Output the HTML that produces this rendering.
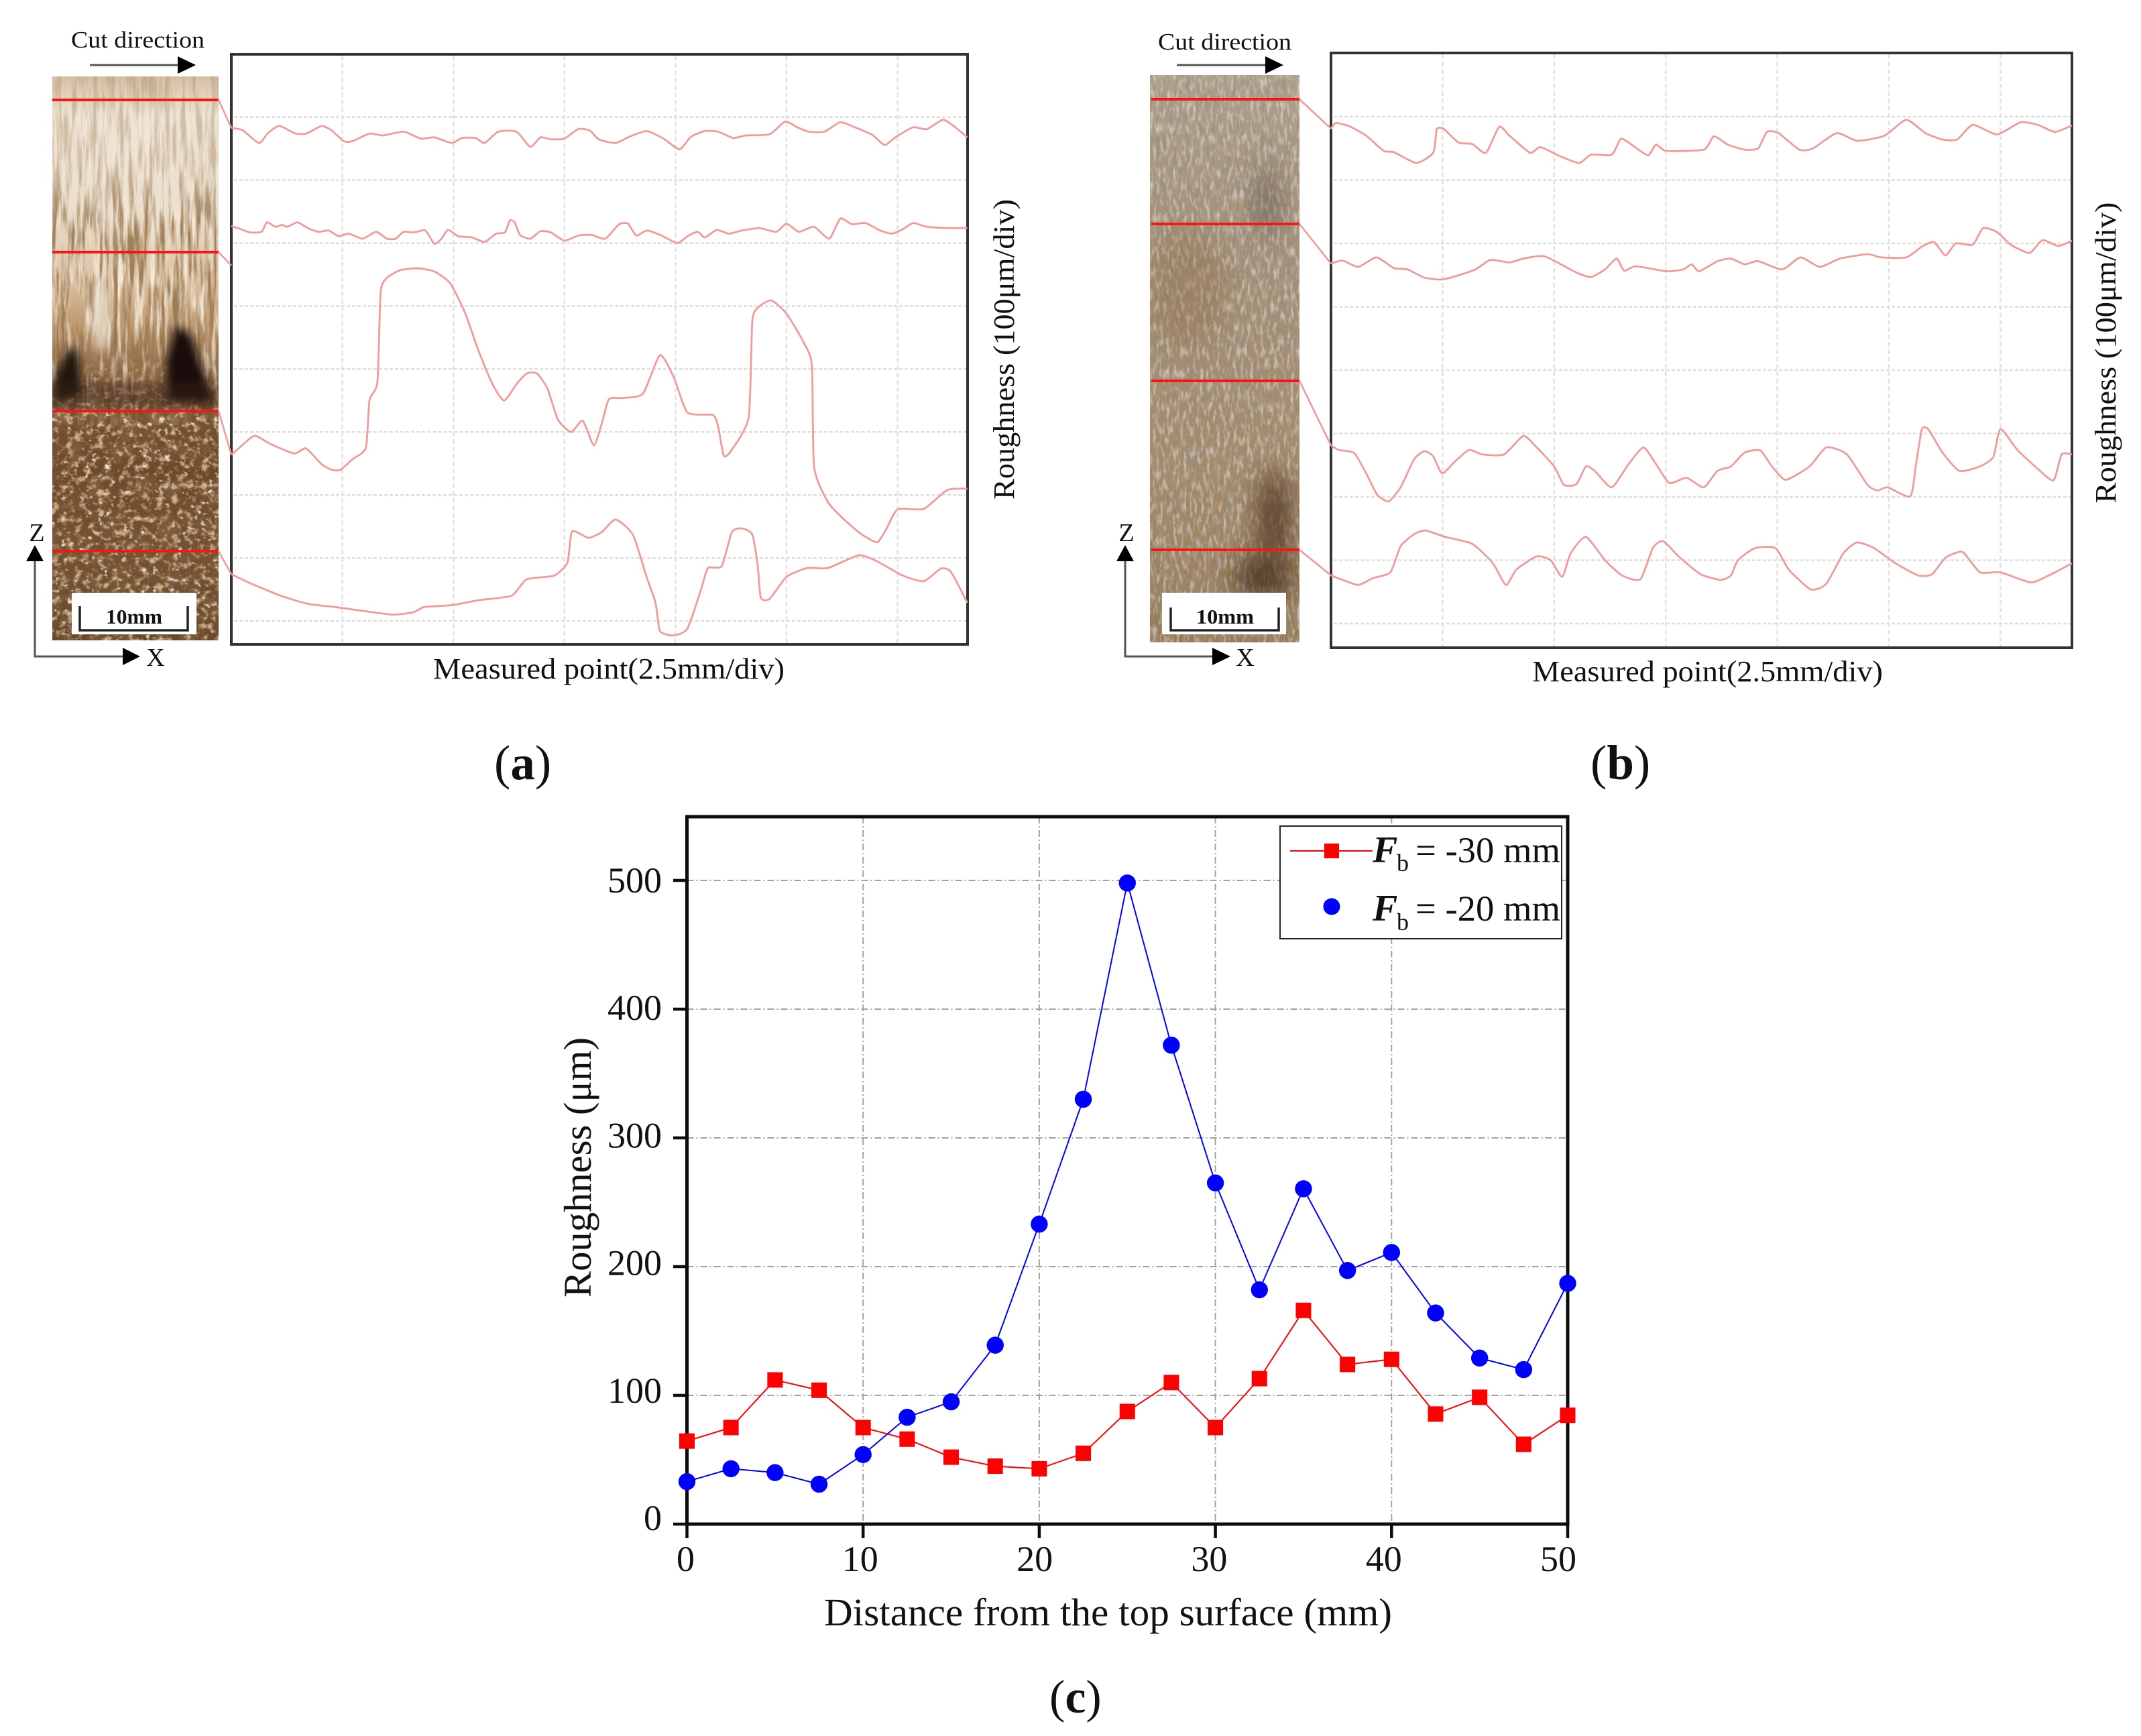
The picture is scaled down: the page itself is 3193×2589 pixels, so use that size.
<!DOCTYPE html>
<html lang="en">
<head>
<meta charset="utf-8">
<title>Surface roughness profiles</title>
<style>
html,body{margin:0;padding:0;background:#fff;}
svg{display:block;}
text{font-family:"Liberation Serif",serif;fill:#111;}
</style>
</head>
<body>
<svg id="figure" xmlns="http://www.w3.org/2000/svg" width="3193" height="2589" viewBox="0 0 3193 2589">
<defs>
<linearGradient id="gradA" x1="0" y1="0" x2="0" y2="1">
<stop offset="0" stop-color="#d6c0a4"/><stop offset=".07" stop-color="#efe5d6"/><stop offset=".24" stop-color="#eaddcb"/><stop offset=".36" stop-color="#dcc3a4"/><stop offset=".45" stop-color="#b8946a"/><stop offset=".56" stop-color="#7a5535"/><stop offset=".7" stop-color="#6e4a2a"/><stop offset=".85" stop-color="#745232"/><stop offset="1" stop-color="#68482c"/>
</linearGradient>
<linearGradient id="gradB" x1="0" y1="0" x2="0" y2="1">
<stop offset="0" stop-color="#aea08c"/><stop offset=".3" stop-color="#a3917a"/><stop offset=".5" stop-color="#a38d72"/><stop offset=".7" stop-color="#a28a6a"/><stop offset="1" stop-color="#957b5a"/>
</linearGradient>
<linearGradient id="fadeDown" x1="0" y1="0" x2="0" y2="1">
<stop offset="0" stop-color="#fff" stop-opacity=".35"/><stop offset=".25" stop-color="#fff" stop-opacity=".45"/><stop offset=".42" stop-color="#fff" stop-opacity="1"/><stop offset="1" stop-color="#fff" stop-opacity="1"/>
</linearGradient>
<linearGradient id="fadeMid" x1="0" y1="0" x2="0" y2="1">
<stop offset="0" stop-color="#fff" stop-opacity="0"/><stop offset=".35" stop-color="#fff" stop-opacity=".4"/><stop offset=".6" stop-color="#fff" stop-opacity="1"/><stop offset=".85" stop-color="#fff" stop-opacity=".8"/><stop offset="1" stop-color="#fff" stop-opacity="0"/>
</linearGradient>
<linearGradient id="fadeLow" x1="0" y1="0" x2="0" y2="1">
<stop offset="0" stop-color="#fff" stop-opacity="0"/><stop offset=".2" stop-color="#fff" stop-opacity="1"/><stop offset="1" stop-color="#fff" stop-opacity="1"/>
</linearGradient>
<mask id="maskDown" maskUnits="userSpaceOnUse" x="78" y="114" width="248" height="520"><rect x="78" y="114" width="248" height="520" fill="url(#fadeDown)"/></mask>
<mask id="maskMid" maskUnits="userSpaceOnUse" x="78" y="114" width="248" height="520"><rect x="78" y="114" width="248" height="520" fill="url(#fadeMid)"/></mask>
<mask id="maskLow" maskUnits="userSpaceOnUse" x="78" y="520" width="248" height="435"><rect x="78" y="520" width="248" height="435" fill="url(#fadeLow)"/></mask>
<filter id="streakDark" x="0" y="0" width="1" height="1"><feTurbulence type="fractalNoise" baseFrequency="0.13 0.012" numOctaves="4" seed="4"/><feColorMatrix type="matrix" values="0 0 0 0 .3 0 0 0 0 .17 0 0 0 0 .07 4 0 0 0 -1.7"/></filter>
<filter id="streakLight" x="0" y="0" width="1" height="1"><feTurbulence type="fractalNoise" baseFrequency="0.12 0.014" numOctaves="4" seed="11"/><feColorMatrix type="matrix" values="0 0 0 0 1 0 0 0 0 .95 0 0 0 0 .85 0 4 0 0 -1.95"/></filter>
<filter id="chunkLight" x="0" y="0" width="1" height="1"><feTurbulence type="fractalNoise" baseFrequency="0.09 0.1" numOctaves="4" seed="21"/><feColorMatrix type="matrix" values="0 0 0 0 .9 0 0 0 0 .68 0 0 0 0 .42 0 3.5 0 0 -1.8"/></filter>
<filter id="chunkWhite" x="0" y="0" width="1" height="1"><feTurbulence type="fractalNoise" baseFrequency="0.11 0.13" numOctaves="3" seed="41"/><feColorMatrix type="matrix" values="0 0 0 0 .97 0 0 0 0 .93 0 0 0 0 .87 0 0 5 0 -3.1"/></filter>
<filter id="chunkDark" x="0" y="0" width="1" height="1"><feTurbulence type="fractalNoise" baseFrequency="0.03 0.035" numOctaves="4" seed="31"/><feColorMatrix type="matrix" values="0 0 0 0 .22 0 0 0 0 .12 0 0 0 0 .05 3.5 0 0 0 -1.6"/></filter>
<filter id="grainGrey" x="0" y="0" width="1" height="1"><feTurbulence type="fractalNoise" baseFrequency="0.16 0.03" numOctaves="4" seed="7"/><feColorMatrix type="matrix" values="0 0 0 0 .32 0 0 0 0 .27 0 0 0 0 .22 3.5 0 0 0 -1.55"/></filter>
<filter id="grainLight" x="0" y="0" width="1" height="1"><feTurbulence type="fractalNoise" baseFrequency="0.2 0.06" numOctaves="3" seed="17"/><feColorMatrix type="matrix" values="0 0 0 0 .9 0 0 0 0 .86 0 0 0 0 .78 0 3 0 0 -1.4"/></filter>
<filter id="softBlur" x="-40%" y="-40%" width="180%" height="180%"><feGaussianBlur stdDeviation="6"/></filter>
<filter id="wideBlur" x="-50%" y="-50%" width="200%" height="200%"><feGaussianBlur stdDeviation="18"/></filter>
<clipPath id="clipA"><rect x="78" y="114" width="248" height="841"/></clipPath>
<clipPath id="clipB"><rect x="1715" y="112" width="223" height="846"/></clipPath>
</defs>

<rect x="0" y="0" width="3193" height="2589" fill="#ffffff"/>

<!-- Panel a specimen -->
<g clip-path="url(#clipA)">
<rect x="78" y="114" width="248" height="841" fill="url(#gradA)"/>
<g mask="url(#maskDown)">
<rect x="78" y="114" width="248" height="520" filter="url(#streakDark)" opacity=".85"/>
</g>
<g mask="url(#maskMid)">
<rect x="78" y="114" width="248" height="520" filter="url(#streakLight)" opacity=".75"/>
</g>
<g mask="url(#maskLow)">
<rect x="78" y="520" width="248" height="435" filter="url(#chunkDark)" opacity=".75"/>
<rect x="78" y="520" width="248" height="435" filter="url(#chunkLight)" opacity=".75"/>
<rect x="78" y="520" width="248" height="435" filter="url(#chunkWhite)" opacity=".8"/>
</g>
<polygon points="262,485 285,500 305,560 318,600 250,600 248,540" fill="#1e1008" filter="url(#softBlur)"/>
<polygon points="104,515 118,530 122,590 82,600 82,560" fill="#24140a" filter="url(#softBlur)"/>
<rect x="78" y="570" width="248" height="40" fill="#3a2412" opacity=".45" filter="url(#softBlur)"/>
<ellipse cx="150" cy="470" rx="12" ry="55" fill="#fbf6ee" filter="url(#softBlur)" opacity=".7"/>
</g>
<rect x="107" y="884" width="186" height="62" fill="#ffffff"/>
<path d="M119 904V940H280V904" fill="none" stroke="#222" stroke-width="3.5"/>
<text x="200" y="930" font-size="31" font-weight="bold" text-anchor="middle" textLength="84" lengthAdjust="spacingAndGlyphs">10mm</text>
<line x1="78" y1="149" x2="326" y2="149" stroke="#f01818" stroke-width="4"/>
<line x1="78" y1="376" x2="326" y2="376" stroke="#f01818" stroke-width="4"/>
<line x1="78" y1="613" x2="326" y2="613" stroke="#f01818" stroke-width="4"/>
<line x1="78" y1="822" x2="326" y2="822" stroke="#f01818" stroke-width="4"/>
<text x="106" y="71" font-size="35" textLength="199" lengthAdjust="spacingAndGlyphs">Cut direction</text>
<line x1="134" y1="97" x2="266" y2="97" stroke="#555" stroke-width="3"/>
<polygon points="265,84 292,97 265,110" fill="#000"/>
<path d="M52 836V979H186" fill="none" stroke="#555" stroke-width="3"/>
<polygon points="39,837 52,813 65,837" fill="#000"/>
<polygon points="183,966 209,979 183,992" fill="#000"/>
<text x="55" y="807" font-size="38" text-anchor="middle">Z</text>
<text x="232" y="993" font-size="38" text-anchor="middle">X</text>

<!-- Panel a plot -->
<rect x="345" y="81" width="1098" height="880" fill="#ffffff" stroke="#333" stroke-width="4"/>
<g id="gridA"></g>
<g id="curvesA"></g>
<text x="646" y="1012" font-size="44" textLength="524" lengthAdjust="spacingAndGlyphs">Measured point(2.5mm/div)</text>
<text x="0" y="0" font-size="44" text-anchor="middle" textLength="448" lengthAdjust="spacingAndGlyphs" transform="translate(1512 521) rotate(-90)">Roughness (100μm/div)</text>
<text x="737" y="1162" font-size="73">(<tspan font-weight="bold">a</tspan>)</text>

<!-- Panel b specimen -->
<g clip-path="url(#clipB)">
<rect x="1715" y="112" width="223" height="846" fill="url(#gradB)"/>
<rect x="1715" y="112" width="223" height="846" filter="url(#grainGrey)" opacity=".65"/>
<rect x="1715" y="112" width="223" height="846" filter="url(#grainLight)" opacity=".5"/>
<ellipse cx="1890" cy="300" rx="18" ry="55" fill="#4e4034" filter="url(#wideBlur)" opacity=".45"/>
<ellipse cx="1770" cy="430" rx="60" ry="90" fill="#8a6638" filter="url(#wideBlur)" opacity=".3"/>
<ellipse cx="1900" cy="770" rx="24" ry="70" fill="#4a2c12" filter="url(#wideBlur)" opacity=".75"/>
<ellipse cx="1885" cy="860" rx="44" ry="34" fill="#3a2410" filter="url(#wideBlur)" opacity=".7"/>
</g>
<rect x="1733" y="884" width="185" height="62" fill="#ffffff"/>
<path d="M1746 906V940H1907V906" fill="none" stroke="#222" stroke-width="3.5"/>
<text x="1827" y="930" font-size="31" font-weight="bold" text-anchor="middle" textLength="86" lengthAdjust="spacingAndGlyphs">10mm</text>
<line x1="1717" y1="148" x2="1938" y2="148" stroke="#f01818" stroke-width="4"/>
<line x1="1717" y1="334" x2="1938" y2="334" stroke="#f01818" stroke-width="4"/>
<line x1="1717" y1="568" x2="1938" y2="568" stroke="#f01818" stroke-width="4"/>
<line x1="1717" y1="820" x2="1938" y2="820" stroke="#f01818" stroke-width="4"/>
<text x="1727" y="74" font-size="35" textLength="199" lengthAdjust="spacingAndGlyphs">Cut direction</text>
<line x1="1755" y1="97" x2="1888" y2="97" stroke="#555" stroke-width="3"/>
<polygon points="1887,84 1914,97 1887,110" fill="#000"/>
<path d="M1678 836V979H1811" fill="none" stroke="#555" stroke-width="3"/>
<polygon points="1665,837 1678,813 1691,837" fill="#000"/>
<polygon points="1808,966 1835,979 1808,992" fill="#000"/>
<text x="1680" y="807" font-size="38" text-anchor="middle">Z</text>
<text x="1857" y="993" font-size="38" text-anchor="middle">X</text>

<!-- Panel b plot -->
<rect x="1985" y="79" width="1105" height="887" fill="#ffffff" stroke="#333" stroke-width="4"/>
<g id="gridB"></g>
<g id="curvesB"></g>
<text x="2285" y="1016" font-size="44" textLength="523" lengthAdjust="spacingAndGlyphs">Measured point(2.5mm/div)</text>
<text x="0" y="0" font-size="44" text-anchor="middle" textLength="449" lengthAdjust="spacingAndGlyphs" transform="translate(3155 526) rotate(-90)">Roughness (100μm/div)</text>
<text x="2372" y="1162" font-size="73">(<tspan font-weight="bold">b</tspan>)</text>

<!-- Panel c chart -->
<g id="gridC"></g>
<rect x="1024.5" y="1218" width="1313.5" height="1055" fill="none" stroke="#0c0c0c" stroke-width="5"/>
<g id="ticksC"></g>
<g id="seriesC"></g>
<text x="1229" y="2424" font-size="58" textLength="847" lengthAdjust="spacingAndGlyphs">Distance from the top surface (mm)</text>
<text x="0" y="0" font-size="58" text-anchor="middle" textLength="388" lengthAdjust="spacingAndGlyphs" transform="translate(881 1741) rotate(-90)">Roughness (μm)</text>
<g>
<rect x="1909" y="1232" width="420" height="168" fill="#ffffff" stroke="#222" stroke-width="2"/>
<line x1="1924" y1="1269" x2="2047" y2="1269" stroke="#ff0000" stroke-width="2"/>
<rect x="1975" y="1258" width="22" height="22" fill="#ff0000"/>
<text x="2047" y="1286" font-size="56" font-weight="bold" font-style="italic">F</text>
<text x="2083" y="1299" font-size="36">b</text>
<text x="2111" y="1286" font-size="54" textLength="216" lengthAdjust="spacingAndGlyphs">= -30 mm</text>
<circle cx="1986" cy="1352" r="12.5" fill="#0000ff"/>
<text x="2047" y="1373" font-size="56" font-weight="bold" font-style="italic">F</text>
<text x="2083" y="1387" font-size="36">b</text>
<text x="2111" y="1373" font-size="54" textLength="216" lengthAdjust="spacingAndGlyphs">= -20 mm</text>
</g>
<text x="1565" y="2554" font-size="70">(<tspan font-weight="bold">c</tspan>)</text>

<script>
// Chart (c) data
var distanceMm = [0,2.5,5,7.5,10,12.5,15,17.5,20,22.5,25,27.5,30,32.5,35,37.5,40,42.5,45,47.5,50];
var roughnessFb30 = [64.5,75,112,104,75,66,52,45,43,55,87.5,110,75,113,166,124,128,85.5,98.5,62,84.5];
var roughnessFb20 = [33,43,40,31,54,83,95,139,233,330,498,372,265,182,260.5,197,211,164,129,120,187];
var xTickLabels = [0,10,20,30,40,50];
var yTickLabels = [0,100,200,300,400,500];

// Panel (a) profiles: position in mm, height in micrometres
var a1Mm = [0,.26,.62,.83,1.08,1.45,1.69,2.03,2.26,2.53,2.73,3.11,3.42,3.88,4.27,4.57,4.96,5.19,5.5,5.7,6.01,6.42,6.73,6.96,7.19,7.5,7.81,8.07,8.27,8.65,8.96,9.35,9.73,10.09,10.35,10.66,10.96,11.3,11.58,12.12,12.47,12.74,13,13.35,13.71,14.04,14.43,14.71,14.97,15.35,15.66,16.02,16.28,16.57];
var a1Um = [783,779,759,775,786,774,774,786,779,762,762,774,771,777,766,768,759,767,767,759,777,777,753,768,765,766,781,779,765,759,769,778,766,749,769,778,777,767,771,773,793,784,777,777,792,784,772,756,769,784,781,796,785,768];
var a2Mm = [0,.18,.42,.68,.8,.99,1.14,1.26,1.49,1.72,1.96,2.19,2.42,2.65,2.96,3.26,3.5,3.7,3.88,4.11,4.37,4.57,4.73,4.88,5.11,5.42,5.7,5.96,6.16,6.27,6.38,6.5,6.73,6.96,7.19,7.5,7.81,8.12,8.42,8.73,8.93,9.12,9.35,9.66,10.04,10.27,10.5,10.66,10.93,11.2,11.5,11.89,12.27,12.5,12.78,13.12,13.46,13.71,13.97,14.28,14.58,14.86,15.12,15.35,15.66,16.12,16.57];
var a2Um = [627,623,617,618,633,626,629,626,633,624,618,620,611,615,607,618,607,607,618,617,620,599,607,621,611,609,602,615,617,636,633,613,607,619,617,604,612,613,607,630,631,612,620,613,600,611,618,609,621,615,620,624,618,631,618,626,607,639,630,632,621,615,622,632,626,624,624];
var a3Mm = [0,.18,.52,.88,1.42,1.68,2.03,2.26,2.46,2.73,3.03,3.11,3.29,3.36,3.49,3.8,4.19,4.57,4.93,5.27,5.57,5.88,6.14,6.42,6.65,6.88,7.12,7.35,7.65,7.91,8.16,8.34,8.5,8.81,9.27,9.65,9.96,10.27,10.84,10.96,11.09,11.27,11.65,11.73,11.88,12.16,12.5,12.88,13.07,13.12,13.43,13.81,14.2,14.54,14.74,15,15.59,16.12,16.57];
var a3Um = [264,275,294,281,266,274,249,240,240,257,275,350,380,521,544,557,560,555,536,488,428,376,350,376,393,393,369,320,300,318,279,313,352,354,361,422,387,331,327,309,262,272,324,477,499,509,488,443,406,245,189,160,137,125,145,177,178,208,210];
var a4Mm = [0,.42,1.11,1.73,2.34,2.96,3.65,4.11,4.34,4.96,5.57,6.31,6.65,7.27,7.57,7.67,8.04,8.34,8.65,9.04,9.35,9.55,9.65,9.96,10.27,10.58,10.73,11.04,11.27,11.5,11.73,11.85,11.92,12.12,12.5,12.97,13.43,14.12,14.5,15.12,15.59,15.97,16.2,16.57];
var a4Um = [74,60,40,27,22,16,10,14,22,25,33,40,66,72,93,142,132,141,161,137,70,29,-16,-23,-12,51,84,87,141,147,137,89,37,35,70,84,84,104,96,72,63,83,78,29];

// Panel (b) profiles
var b1Mm = [0,.11,.41,.79,1.18,1.41,1.91,2.29,2.37,2.52,2.86,3.16,3.47,3.77,4,4.46,4.69,5.15,5.56,5.83,6.29,6.49,6.67,7.1,7.28,7.51,8.35,8.58,8.89,9.27,9.57,9.77,10.03,10.49,10.8,11.33,11.79,12.4,12.89,13.32,13.7,14.03,14.38,14.92,15.45,15.84,16.22,16.6];
var b1Um = [781,790,785,770,746,744,727,743,780,781,759,757,743,784,770,743,752,737,727,740,740,765,759,739,756,746,748,769,756,748,750,776,774,748,750,774,762,770,795,774,764,764,787,772,791,787,776,786];
var b2Mm = [0,.26,.61,1.02,1.41,1.71,2.09,2.47,2.78,3.24,3.57,4,4.31,4.76,5.15,5.53,5.83,6.14,6.4,6.57,6.83,7.51,7.9,8.08,8.25,8.66,8.96,9.27,9.57,10.11,10.52,10.95,11.4,12.02,12.32,12.89,13.24,13.51,13.77,14,14.38,14.61,14.92,15.23,15.65,15.94,16.29,16.6];
var b2Um = [568,573,563,578,561,559,546,543,548,559,574,570,576,580,567,553,547,559,576,557,564,556,559,567,556,572,576,567,572,559,578,563,576,583,578,578,595,602,581,600,598,624,618,598,585,605,596,604];
var b3Mm = [0,.18,.52,.79,1.03,1.29,1.56,1.86,2.09,2.29,2.49,2.78,3.09,3.39,3.88,4.31,4.61,5,5.22,5.5,5.71,5.91,6.29,6.67,7,7.28,7.58,7.97,8.35,8.66,8.96,9.27,9.62,9.88,10.19,10.72,11.1,11.56,12.02,12.25,12.47,12.98,13.11,13.24,13.39,13.7,14.08,14.54,14.84,15,15.38,15.84,16.19,16.37,16.6];
var b3Um = [281,274,269,237,204,193,215,259,272,264,237,256,274,267,267,296,278,248,219,220,248,241,215,252,278,252,222,230,215,241,248,270,273,248,227,248,278,267,219,210,215,201,252,307,306,270,241,248,263,307,274,244,226,267,267];
var b4Mm = [0,.26,.61,.95,1.33,1.56,1.86,2.12,2.55,3.16,3.62,3.92,4.15,4.61,4.92,5.18,5.37,5.71,6.14,6.52,6.93,7.21,7.44,7.82,8.28,8.73,8.96,9.12,9.5,9.96,10.26,10.75,11.1,11.48,11.79,12.17,12.63,13.16,13.47,13.77,14.15,14.54,15,15.68,16.14,16.6];
var b4Um = [76,69,61,72,81,122,141,147,137,126,96,61,85,106,100,74,111,137,100,76,70,119,130,104,78,69,76,100,119,119,85,54,63,111,128,119,96,76,78,104,113,81,81,65,78,95];

// Grid divisions of the profile plots
var profileXDivs = [1,2,3,4,5,6];
var profileYDivs = [0,100,200,300,400,500,600,700,800];

var NS = 'http://www.w3.org/2000/svg';
function mk(tag, attrs, parent) {
  var el = document.createElementNS(NS, tag);
  for (var k in attrs) { el.setAttribute(k, attrs[k]); }
  parent.appendChild(el);
  return el;
}

// Scales for profile plots
function axA_x(mm) { return 345 + mm / 2.5 * 165.6; }
function axA_y(um) { return 926 - um / 100 * 93.9; }
function axB_x(mm) { return 1985 + mm / 2.5 * 166.4; }
function axB_y(um) { return 930 - um / 100 * 94.5; }

function drawProfileGrid(groupId, sx, sy, x0, x1, y0, y1) {
  var g = document.getElementById(groupId);
  profileXDivs.forEach(function (d) {
    var v = mk('line', {x1: sx(d * 2.5), x2: sx(d * 2.5), y1: y0, y2: y1, stroke: '#e2e2e2', 'stroke-width': 2.5, 'stroke-dasharray': '7 4'}, g);
    
    
  });
  profileYDivs.forEach(function (u) {
    var h = mk('line', {x1: x0, x2: x1, y1: sy(u), y2: sy(u), stroke: '#dedede', 'stroke-width': 2.5, 'stroke-dasharray': '5 3'}, g);
    
    
  });
}
drawProfileGrid('gridA', axA_x, axA_y, 349, 1441, 83, 959);
drawProfileGrid('gridB', axB_x, axB_y, 1989, 3088, 81, 964);

// Smooth path through the sampled profile points (Catmull-Rom)
function smoothPath(pts) {
  var d = 'M' + pts[0][0].toFixed(1) + ' ' + pts[0][1].toFixed(1);
  for (var i = 0; i < pts.length - 1; i++) {
    var p0 = pts[Math.max(i - 1, 0)], p1 = pts[i], p2 = pts[i + 1], p3 = pts[Math.min(i + 2, pts.length - 1)];
    var c1x = p1[0] + (p2[0] - p0[0]) / 10, c1y = p1[1] + (p2[1] - p0[1]) / 10;
    var c2x = p2[0] - (p3[0] - p1[0]) / 10, c2y = p2[1] - (p3[1] - p1[1]) / 10;
    d += 'C' + c1x.toFixed(1) + ' ' + c1y.toFixed(1) + ' ' + c2x.toFixed(1) + ' ' + c2y.toFixed(1) + ' ' + p2[0].toFixed(1) + ' ' + p2[1].toFixed(1);
  }
  return d;
}

function drawProfile(groupId, sx, sy, xs, ys, startX, startY) {
  var g = document.getElementById(groupId);
  var n = Math.min(xs.length, ys.length);
  var pts = [];
  for (var i = 0; i < n; i++) { pts.push([sx(xs[i]), sy(ys[i])]); }
  var lead = mk('line', {x1: startX, y1: startY, x2: pts[0][0], y2: pts[0][1], stroke: '#f29a9a', 'stroke-width': 2.6}, g);
  
  
  var p = mk('path', {d: smoothPath(pts), fill: 'none', stroke: '#f29a9a', 'stroke-width': 2.8, 'stroke-linejoin': 'round'}, g);
  
  
}
drawProfile('curvesA', axA_x, axA_y, a1Mm, a1Um, 326, 149);
drawProfile('curvesA', axA_x, axA_y, a2Mm, a2Um, 345, 337);
drawProfile('curvesA', axA_x, axA_y, a3Mm, a3Um, 326, 613);
drawProfile('curvesA', axA_x, axA_y, a4Mm, a4Um, 326, 822);
drawProfile('curvesB', axB_x, axB_y, b1Mm, b1Um, 1938, 148);
drawProfile('curvesB', axB_x, axB_y, b2Mm, b2Um, 1938, 334);
drawProfile('curvesB', axB_x, axB_y, b3Mm, b3Um, 1938, 568);
drawProfile('curvesB', axB_x, axB_y, b4Mm, b4Um, 1938, 820);

var stub = mk('line', {x1: 326, y1: 376, x2: 345, y2: 396, stroke: '#f29a9a', 'stroke-width': 2.6}, document.getElementById('curvesA'));



// Chart (c) scales
function cx(v) { return 1024.5 + v / 50 * 1313.5; }
function cy(v) { return 2273 - v / 100 * 192; }

var gridC = document.getElementById('gridC');
var ticksC = document.getElementById('ticksC');
xTickLabels.forEach(function (v) {
  if (v > 0 && v < 50) {
    var gl = mk('line', {x1: cx(v), x2: cx(v), y1: 1218, y2: 2273, stroke: '#a2a2a2', 'stroke-width': 2, 'stroke-dasharray': '10 4 2 4'}, gridC);
    
    
  }
  var t = mk('line', {x1: cx(v), x2: cx(v), y1: 2273, y2: 2294, stroke: '#0c0c0c', 'stroke-width': 4.5}, ticksC);
  
  
  var lb = mk('text', {x: cx(v) - 2 - v * 0.24, y: 2343, 'font-size': 54, 'text-anchor': 'middle'}, ticksC);
  lb.textContent = String(v);
  
  
});
yTickLabels.forEach(function (v) {
  if (v > 0) {
    var gl = mk('line', {x1: 1024.5, x2: 2338, y1: cy(v), y2: cy(v), stroke: '#a2a2a2', 'stroke-width': 2, 'stroke-dasharray': '10 4 2 4'}, gridC);
    
    
  }
  var t = mk('line', {x1: 1004, x2: 1024.5, y1: cy(v), y2: cy(v), stroke: '#0c0c0c', 'stroke-width': 4.5}, ticksC);
  
  
  var lb = mk('text', {x: 987, y: cy(v) + 9 + v * 0.018, 'font-size': 54, 'text-anchor': 'end'}, ticksC);
  lb.textContent = String(v);
  
  
});

var seriesC = document.getElementById('seriesC');
var redLine = mk('polyline', {points: distanceMm.map(function (d, i) { return cx(d).toFixed(1) + ',' + cy(roughnessFb30[i]).toFixed(1); }).join(' '), fill: 'none', stroke: '#ff0000', 'stroke-width': 2}, seriesC);


var blueLine = mk('polyline', {points: distanceMm.map(function (d, i) { return cx(d).toFixed(1) + ',' + cy(roughnessFb20[i]).toFixed(1); }).join(' '), fill: 'none', stroke: '#0000ff', 'stroke-width': 2}, seriesC);


distanceMm.forEach(function (d, i) {
  var c = mk('circle', {cx: cx(d), cy: cy(roughnessFb20[i]), r: 12.7, fill: '#0000ff'}, seriesC);
  
  
});
distanceMm.forEach(function (d, i) {
  var s = mk('rect', {x: cx(d) - 11.5, y: cy(roughnessFb30[i]) - 11.5, width: 23, height: 23, fill: '#ff0000'}, seriesC);
  
  
});
</script>
</svg>
</body>
</html>
